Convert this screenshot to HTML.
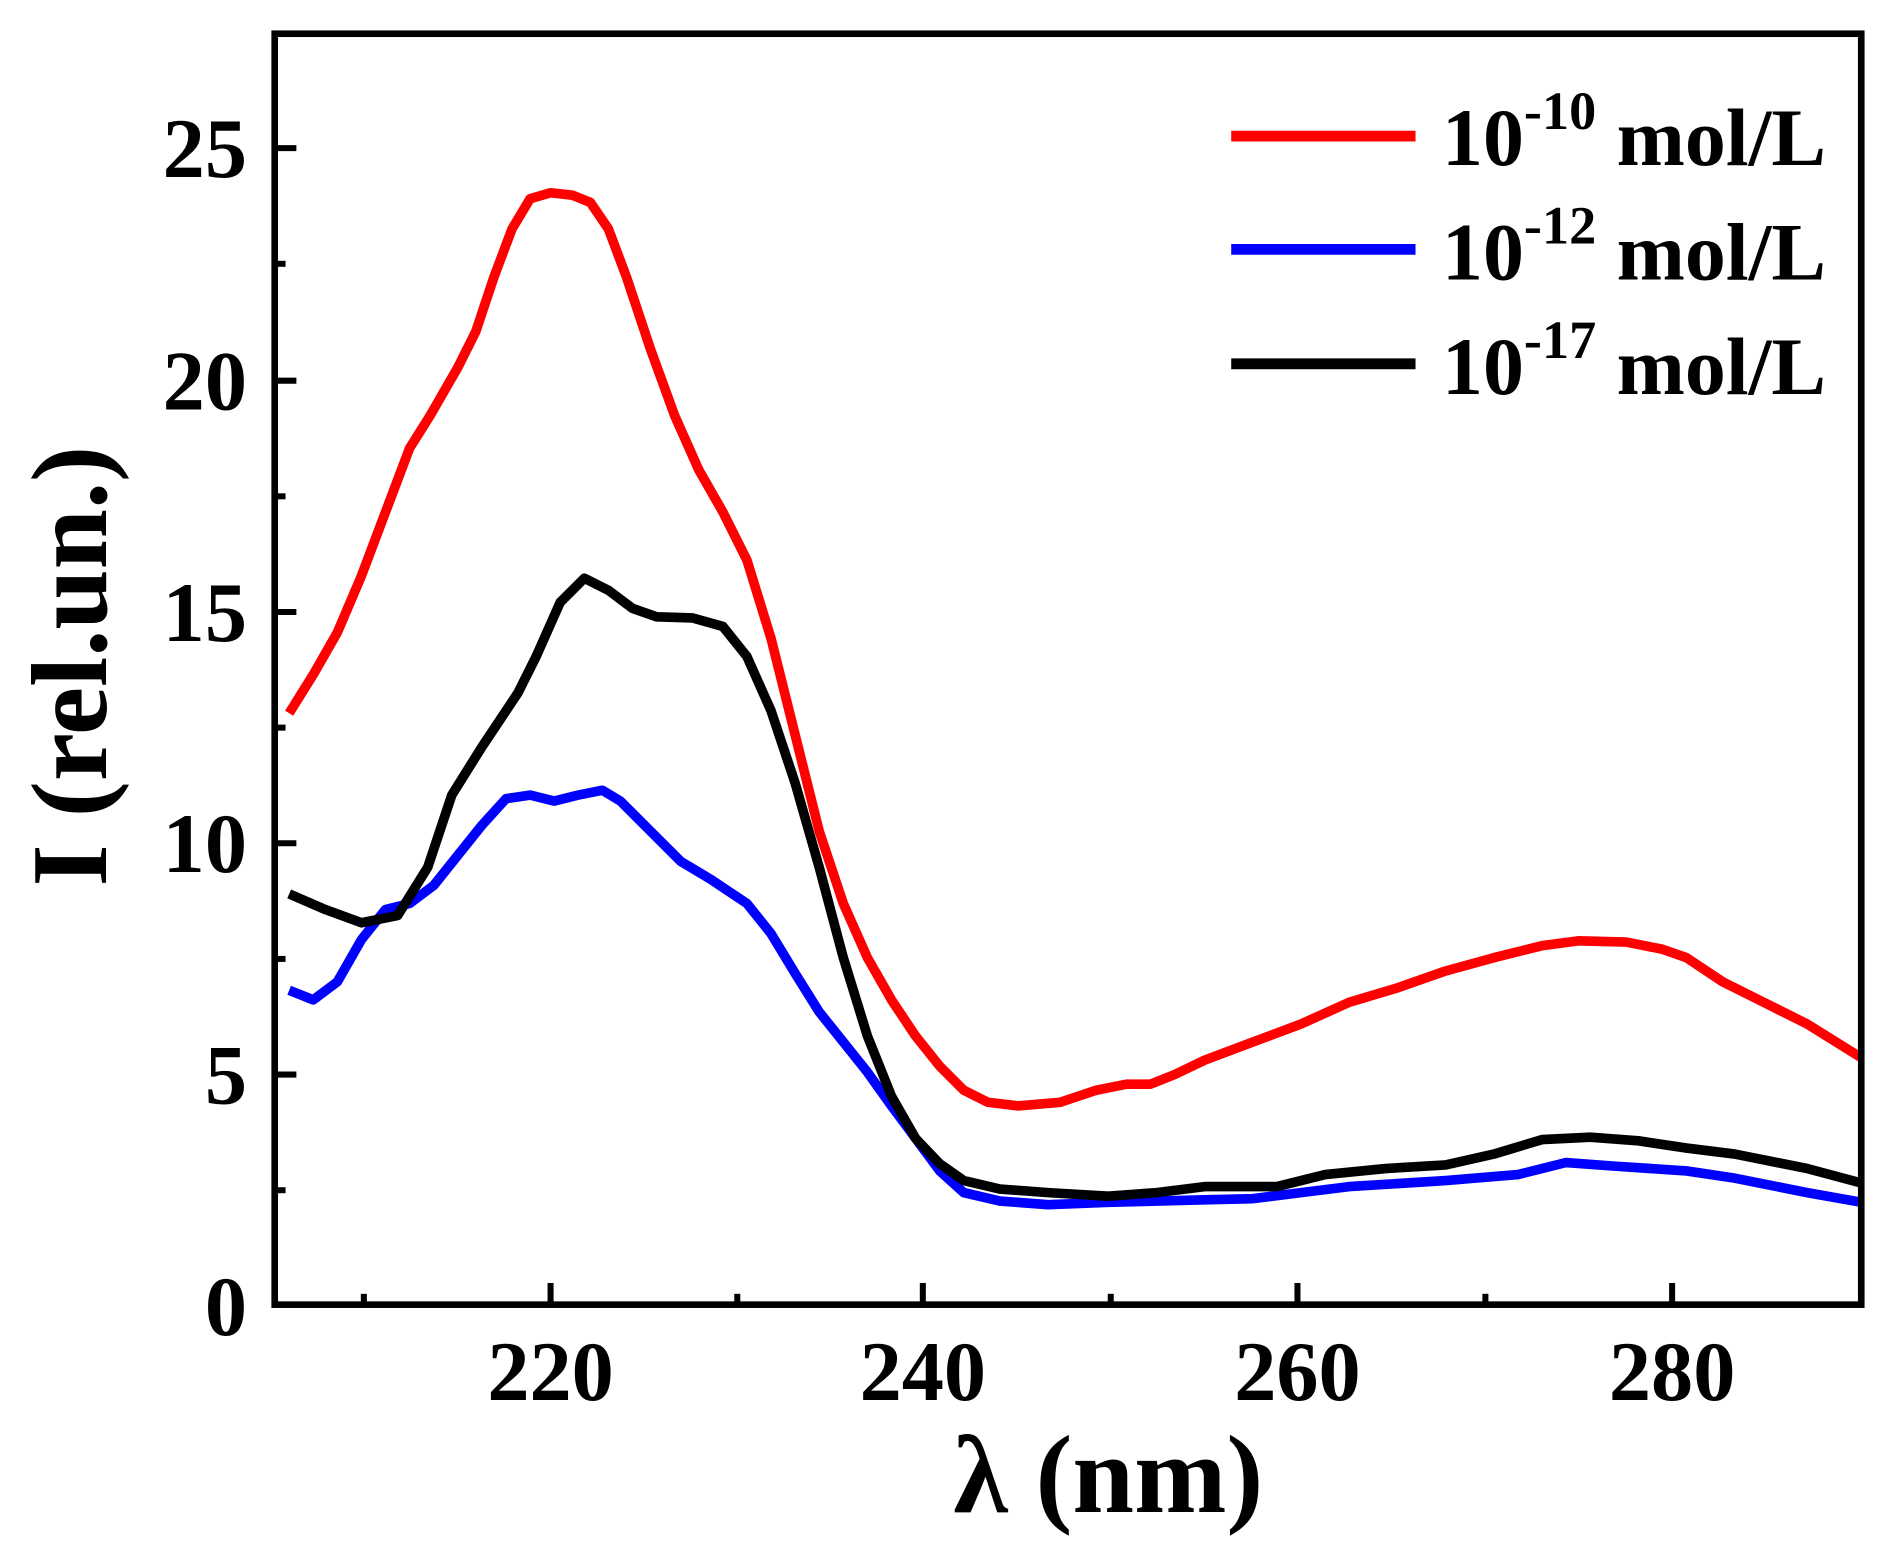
<!DOCTYPE html>
<html><head><meta charset="utf-8"><style>html,body{margin:0;padding:0;background:#fff}svg{display:block}</style></head>
<body>
<svg width="1889" height="1568" viewBox="0 0 1568 1301.6" xmlns="http://www.w3.org/2000/svg" font-family="'Liberation Serif', serif" font-weight="bold">
<rect width="1568" height="1301.6" fill="#fff"/>
<g fill="none" stroke-width="8" stroke-linejoin="round" stroke-linecap="butt">
<polyline stroke="#ff0000" points="240,592 260,560 280,525 300,478 320,425 340,372 357,345 380,305 395,275 410,230 425,190 440,165 457,160 475,162 490,168 505,190 520,230 540,290 560,345 580,390 600,425 620,465 640,530 660,610 680,690 700,750 720,795 740,830 760,860 780,885 800,905 820,915 845,918 880,915 910,905 935,900 955,900 975,892 1000,880 1040,865 1080,850 1120,832 1160,820 1200,806 1240,795 1280,785 1310,781 1350,782 1380,788 1400,795 1430,815 1460,830 1500,850 1545,878"/>
<polyline stroke="#0000ff" points="240,822 260,830 280,815 300,780 320,755 340,750 360,735 380,710 400,685 420,663 440,660 460,665 480,660 500,656 515,665 540,690 565,715 590,730 620,750 640,775 660,808 680,840 700,865 720,890 740,918 760,945 780,972 800,990 830,997 870,1000 920,998 1000,996 1040,995 1080,990 1120,985 1200,980 1260,975 1300,965 1340,968 1400,972 1440,978 1500,990 1545,998"/>
<polyline stroke="#000" points="240,742 270,755 300,766 330,760 355,720 375,660 400,620 430,575 445,545 465,500 485,480 505,490 525,505 545,512 575,513 600,520 620,545 640,590 660,650 680,720 700,795 720,860 740,910 760,945 780,966 800,980 830,987 870,990 920,993 960,990 1000,985 1060,985 1100,975 1150,970 1200,967 1240,958 1280,946 1320,944 1360,947 1400,953 1440,958 1500,970 1545,982"/>
</g>
<rect x="228" y="28" width="1317" height="1055" fill="none" stroke="#000" stroke-width="5.5"/>
<g stroke="#000" stroke-width="5">
<line x1="228" y1="123" x2="246" y2="123"/><line x1="228" y1="316" x2="246" y2="316"/><line x1="228" y1="508" x2="246" y2="508"/><line x1="228" y1="700" x2="246" y2="700"/><line x1="228" y1="892" x2="246" y2="892"/>
<line x1="228" y1="219" x2="237" y2="219"/><line x1="228" y1="412" x2="237" y2="412"/><line x1="228" y1="604" x2="237" y2="604"/><line x1="228" y1="796" x2="237" y2="796"/><line x1="228" y1="988" x2="237" y2="988"/>
<line x1="457" y1="1083" x2="457" y2="1065"/><line x1="766" y1="1083" x2="766" y2="1065"/><line x1="1077" y1="1083" x2="1077" y2="1065"/><line x1="1388" y1="1083" x2="1388" y2="1065"/>
<line x1="302" y1="1083" x2="302" y2="1074"/><line x1="612" y1="1083" x2="612" y2="1074"/><line x1="922" y1="1083" x2="922" y2="1074"/><line x1="1233" y1="1083" x2="1233" y2="1074"/>
</g>
<g font-size="70" text-anchor="end">
<text x="205" y="147">25</text><text x="205" y="340">20</text><text x="205" y="532">15</text><text x="205" y="724">10</text><text x="205" y="916">5</text><text x="205" y="1108">0</text>
</g>
<g font-size="70" text-anchor="middle">
<text x="457" y="1162">220</text><text x="766" y="1162">240</text><text x="1077" y="1162">260</text><text x="1388" y="1162">280</text>
</g>
<text x="920" y="1255" font-size="92" text-anchor="middle">λ (nm)</text>
<text transform="translate(88,553) rotate(-90)" font-size="90" text-anchor="middle">I (rel.un.)</text>
<g stroke-width="9">
<line x1="1022" y1="113" x2="1175" y2="113" stroke="#ff0000"/>
<line x1="1022" y1="207" x2="1175" y2="207" stroke="#0000ff"/>
<line x1="1022" y1="302" x2="1175" y2="302" stroke="#000"/>
</g>
<g font-size="68">
<text x="1197" y="137">10<tspan font-size="45" dy="-30">-10</tspan><tspan dy="30"> mol/L</tspan></text>
<text x="1197" y="232">10<tspan font-size="45" dy="-30">-12</tspan><tspan dy="30"> mol/L</tspan></text>
<text x="1197" y="327">10<tspan font-size="45" dy="-30">-17</tspan><tspan dy="30"> mol/L</tspan></text>
</g>
</svg>
</body></html>
